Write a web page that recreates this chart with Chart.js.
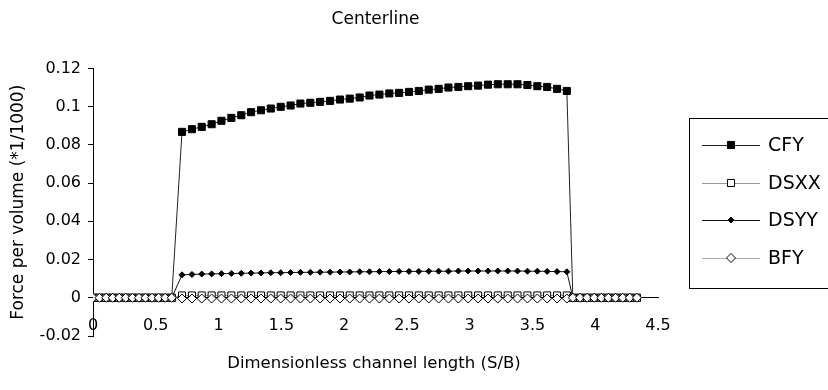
<!DOCTYPE html>
<html>
<head>
<meta charset="utf-8">
<script src="https://cdn.jsdelivr.net/npm/chart.js@4"></script>
<style>
  html, body { margin: 0; padding: 0; background: #fff; }
  #wrap { width: 828px; height: 390px; }
</style>
</head>
<body>
<div id="wrap"><canvas id="chart" width="828" height="390"></canvas></div>
<script>
// S/B stations along the centerline: inlet, channel, outlet
const stations = [
  0, 0.052, 0.105, 0.157, 0.209, 0.261, 0.314, 0.366, 0.418, 0.470, 0.523, 0.575, 0.627,
  0.709, 0.788, 0.866, 0.945, 1.023, 1.102, 1.181, 1.259, 1.338, 1.416,
  1.495, 1.574, 1.652, 1.731, 1.809, 1.888, 1.967, 2.045, 2.124, 2.202,
  2.281, 2.360, 2.438, 2.517, 2.595, 2.674, 2.753, 2.831, 2.910, 2.988,
  3.067, 3.146, 3.224, 3.303, 3.381, 3.460, 3.539, 3.617, 3.696, 3.774,
  3.822, 3.879, 3.935, 3.992, 4.049, 4.105, 4.162, 4.219, 4.275, 4.332
];

const cfy = [
  0, 0, 0, 0, 0, 0, 0, 0, 0, 0, 0, 0, 0,
  0.0868, 0.0882, 0.0894, 0.0908, 0.0926, 0.0941, 0.0955, 0.0971, 0.0981, 0.0990,
  0.0999, 0.1006, 0.1016, 0.1020, 0.1025, 0.1030, 0.1037, 0.1042, 0.1048, 0.1058,
  0.1063, 0.1069, 0.1072, 0.1077, 0.1082, 0.1089, 0.1093, 0.1100, 0.1103, 0.1107,
  0.1110, 0.1115, 0.1117, 0.1117, 0.1117, 0.1113, 0.1107, 0.1103, 0.1093, 0.1082,
  0, 0, 0, 0, 0, 0, 0, 0, 0, 0
];

const dsxx = [
  0, 0, 0, 0, 0, 0, 0, 0, 0, 0, 0, 0, 0,
  0.0012, 0.0012, 0.0012, 0.0012, 0.0012, 0.0012, 0.0012, 0.0012, 0.0012, 0.0012,
  0.0012, 0.0012, 0.0012, 0.0012, 0.0012, 0.0012, 0.0012, 0.0012, 0.0012, 0.0012,
  0.0012, 0.0012, 0.0012, 0.0012, 0.0012, 0.0012, 0.0012, 0.0012, 0.0012, 0.0012,
  0.0012, 0.0012, 0.0012, 0.0012, 0.0012, 0.0012, 0.0012, 0.0012, 0.0012, 0.0012,
  0, 0, 0, 0, 0, 0, 0, 0, 0, 0
];

const dsyy = [
  0, 0, 0, 0, 0, 0, 0, 0, 0, 0, 0, 0, 0,
  0.0120, 0.0122, 0.0124, 0.0125, 0.0126, 0.0127, 0.0128, 0.0129, 0.0130, 0.0131,
  0.0131, 0.0132, 0.0133, 0.0133, 0.0134, 0.0134, 0.0135, 0.0135, 0.0136, 0.0136,
  0.0137, 0.0137, 0.0138, 0.0138, 0.0138, 0.0139, 0.0139, 0.0139, 0.0140, 0.0140,
  0.0140, 0.0140, 0.0140, 0.0140, 0.0140, 0.0139, 0.0139, 0.0138, 0.0137, 0.0136,
  0, 0, 0, 0, 0, 0, 0, 0, 0, 0
];

const bfy = [
  0, 0, 0, 0, 0, 0, 0, 0, 0, 0, 0, 0, 0,
  -0.0004, -0.0004, -0.0004, -0.0004, -0.0004, -0.0004, -0.0004, -0.0004, -0.0004, -0.0004,
  -0.0004, -0.0004, -0.0004, -0.0004, -0.0004, -0.0004, -0.0004, -0.0004, -0.0004, -0.0004,
  -0.0004, -0.0004, -0.0004, -0.0004, -0.0004, -0.0004, -0.0004, -0.0004, -0.0004, -0.0004,
  -0.0004, -0.0004, -0.0004, -0.0004, -0.0004, -0.0004, -0.0004, -0.0004, -0.0004, -0.0004,
  0, 0, 0, 0, 0, 0, 0, 0, 0, 0
];

const seriesNames = ['CFY', 'DSXX', 'DSYY', 'BFY'];

const FONT = 'DejaVu Sans';

function points(values) {
  return stations.map((s, i) => ({ x: s, y: values[i] }));
}

// plain number labels: 0.1 not 0.10, 0 not -0.00
function plainTick(value) {
  const v = Math.round(value * 10000) / 10000;
  return String(v === 0 ? 0 : v);
}

// legend box on the right, each entry is a line sample with its marker
const sideLegend = {
  id: 'sideLegend',
  afterDraw(chart) {
    const ctx = chart.ctx;
    ctx.save();
    ctx.strokeStyle = '#000';
    ctx.lineWidth = 1;
    ctx.strokeRect(689.5, 118.5, 160, 170);

    const rows = [145, 183, 220, 258];
    chart.data.datasets.forEach((ds, i) => {
      const y = rows[i];
      ctx.beginPath();
      ctx.strokeStyle = ds.borderColor;
      ctx.lineWidth = 1;
      ctx.moveTo(702, y + 0.5);
      ctx.lineTo(760, y + 0.5);
      ctx.stroke();

      const r = ds.pointRadius;
      ctx.beginPath();
      if (ds.pointStyle === 'rect') {
        const h = r * Math.SQRT1_2;
        ctx.rect(731 - h, y - h, 2 * h, 2 * h);
      } else {
        ctx.moveTo(731, y - r);
        ctx.lineTo(731 + r, y);
        ctx.lineTo(731, y + r);
        ctx.lineTo(731 - r, y);
        ctx.closePath();
      }
      ctx.fillStyle = ds.pointBackgroundColor;
      ctx.fill();
      ctx.strokeStyle = '#000';
      ctx.stroke();

      ctx.fillStyle = '#000';
      ctx.font = '19px "' + FONT + '"';
      ctx.textBaseline = 'middle';
      ctx.textAlign = 'left';
      ctx.fillText(ds.label, 768, y + 1);
    });

    // x axis title under the tick labels
    ctx.font = '16.5px "' + FONT + '"';
    ctx.textAlign = 'center';
    ctx.textBaseline = 'middle';
    ctx.fillText('Dimensionless channel length (S/B)', 374, 364);
    ctx.restore();
  }
};

new Chart(document.getElementById('chart'), {
  type: 'line',
  data: {
    datasets: [
      {
        label: seriesNames[0],
        data: points(cfy),
        borderColor: '#222',
        borderWidth: 1,
        pointStyle: 'rect',
        pointRadius: 5,
        pointBackgroundColor: '#000',
        pointBorderColor: '#000',
        pointBorderWidth: 1,
        order: 4
      },
      {
        label: seriesNames[1],
        data: points(dsxx),
        borderColor: '#999',
        borderWidth: 1,
        pointStyle: 'rect',
        pointRadius: 5,
        pointBackgroundColor: '#fff',
        pointBorderColor: '#000',
        pointBorderWidth: 1,
        order: 2
      },
      {
        label: seriesNames[2],
        data: points(dsyy),
        borderColor: '#111',
        borderWidth: 1,
        pointStyle: 'rectRot',
        pointRadius: 3,
        pointBackgroundColor: '#000',
        pointBorderColor: '#000',
        pointBorderWidth: 1,
        order: 3
      },
      {
        label: seriesNames[3],
        data: points(bfy),
        borderColor: '#aaa',
        borderWidth: 1,
        pointStyle: 'rectRot',
        pointRadius: 4.5,
        pointBackgroundColor: '#fff',
        pointBorderColor: '#000',
        pointBorderWidth: 1,
        order: 1
      }
    ]
  },
  options: {
    responsive: false,
    animation: false,
    devicePixelRatio: 1,
    layout: { padding: { left: 0, right: 170, top: 0, bottom: 54 } },
    elements: { line: { tension: 0 } },
    plugins: {
      legend: { display: false },
      tooltip: { enabled: false },
      title: {
        display: true,
        text: 'Centerline',
        fullSize: false,
        color: '#000',
        font: { family: FONT, size: 17, weight: 'normal' },
        padding: { top: 9, bottom: 39 }
      }
    },
    scales: {
      x: {
        type: 'linear',
        position: { y: 0 },
        min: 0,
        max: 4.5,
        border: { display: true, color: '#000', width: 1 },
        grid: { drawOnChartArea: false, drawTicks: false },
        ticks: {
          stepSize: 0.5,
          color: '#000',
          padding: 18,
          maxRotation: 0,
          callback: plainTick,
          font: { family: FONT, size: 16 }
        }
      },
      y: {
        min: -0.02,
        max: 0.12,
        afterFit(scale) { scale.width = 93; },
        border: { display: true, color: '#000', width: 1 },
        grid: { drawOnChartArea: false, drawTicks: true, tickLength: 5, color: '#000' },
        ticks: {
          stepSize: 0.02,
          color: '#000',
          padding: 7,
          callback: plainTick,
          font: { family: FONT, size: 16 }
        },
        title: {
          display: true,
          text: 'Force per volume (*1/1000)',
          color: '#000',
          font: { family: FONT, size: 17 },
          padding: { top: 8, bottom: 0 }
        }
      }
    }
  },
  plugins: [sideLegend]
});
</script>
</body>
</html>
